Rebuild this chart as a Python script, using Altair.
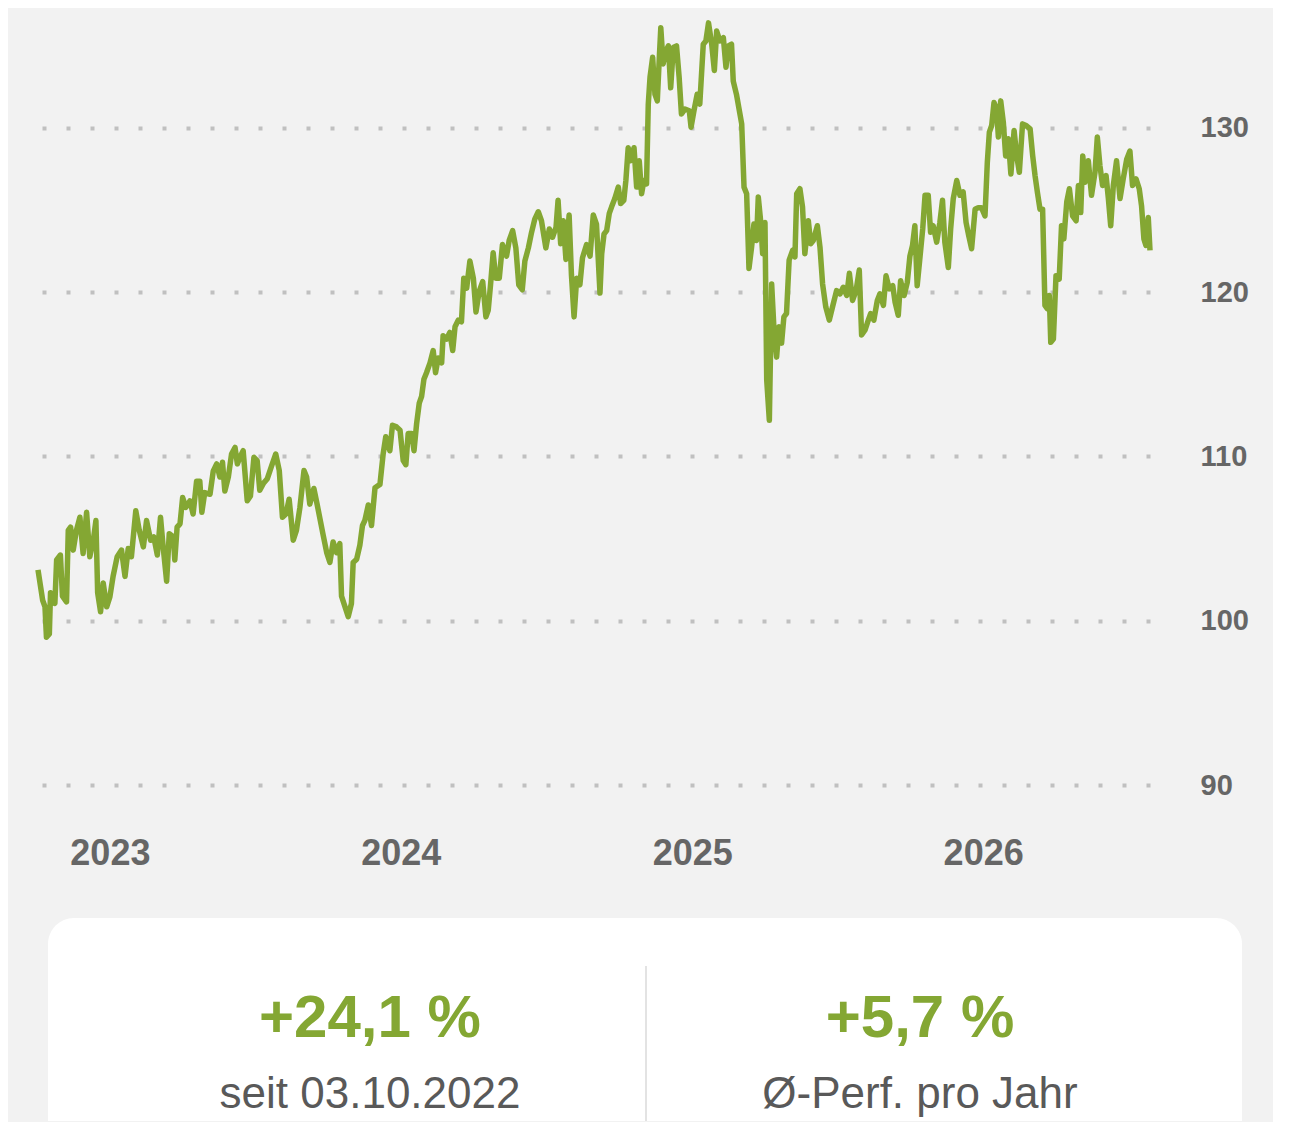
import altair as alt
import pandas as pd

# ---- price series (time in decimal years, value in index points)
t_a = [2022.753, 2022.769, 2022.777, 2022.782, 2022.792, 2022.796, 2022.803, 2022.811, 2022.817, 2022.830,
       2022.837, 2022.851, 2022.857, 2022.865, 2022.874, 2022.885, 2022.897, 2022.908, 2022.920, 2022.931,
       2022.943, 2022.952, 2022.958, 2022.968, 2022.977, 2022.989, 2023.000, 2023.011, 2023.025, 2023.040,
       2023.052, 2023.063, 2023.074, 2023.089, 2023.101, 2023.115, 2023.126, 2023.140, 2023.151, 2023.163,
       2023.174, 2023.183, 2023.195, 2023.204, 2023.218, 2023.223, 2023.231, 2023.241, 2023.250, 2023.261,
       2023.275, 2023.286, 2023.298, 2023.309, 2023.316, 2023.326, 2023.344, 2023.355, 2023.367, 2023.378,
       2023.387, 2023.395, 2023.407, 2023.418, 2023.430, 2023.438, 2023.447, 2023.458, 2023.472, 2023.483,
       2023.495, 2023.506, 2023.515, 2023.527, 2023.541, 2023.556, 2023.570, 2023.582, 2023.593, 2023.605,
       2023.616, 2023.630, 2023.641, 2023.653, 2023.667, 2023.676, 2023.687, 2023.701, 2023.712]
v_a = [103.1, 101.25, 100.85, 99.0, 99.2, 101.7, 101.5, 101.05, 103.7, 104.0,
       101.5, 101.15, 105.5, 105.7, 104.3, 105.5, 106.3, 104.1, 106.6, 103.9,
       104.9, 106.1, 101.7, 100.55, 102.3, 100.85, 101.45, 102.7, 103.9, 104.3,
       102.7, 104.4, 103.9, 106.7, 105.5, 104.5, 106.1, 104.9, 105.1, 104.0,
       106.3, 104.5, 102.4, 105.3, 105.1, 103.7, 105.7, 105.9, 107.5, 106.9,
       107.3, 106.5, 108.5, 108.5, 106.6, 107.8, 107.7, 109.1, 109.55, 108.75,
       109.65, 107.9, 108.75, 110.15, 110.55, 109.55, 109.95, 110.35, 107.3, 107.6,
       109.95, 109.75, 107.95, 108.35, 108.65, 109.45, 110.15, 109.15, 106.3, 106.5,
       107.4, 104.9, 105.5, 106.9, 109.15, 108.75, 107.1, 108.05, 107.1]

t_b = [2023.733, 2023.745, 2023.756, 2023.767, 2023.779, 2023.790, 2023.796, 2023.808, 2023.819, 2023.830,
       2023.836, 2023.848, 2023.859, 2023.868, 2023.876, 2023.888, 2023.899, 2023.911, 2023.928, 2023.939,
       2023.948, 2023.962, 2023.971, 2023.985, 2023.997, 2024.008, 2024.017, 2024.025, 2024.037, 2024.045,
       2024.054, 2024.063, 2024.071, 2024.079, 2024.088, 2024.100, 2024.111, 2024.119, 2024.128, 2024.140,
       2024.145, 2024.157, 2024.168, 2024.178, 2024.186, 2024.197, 2024.208, 2024.216, 2024.226, 2024.237,
       2024.249, 2024.258, 2024.269, 2024.281, 2024.292, 2024.300, 2024.308, 2024.317, 2024.326, 2024.338,
       2024.349, 2024.363, 2024.372, 2024.384, 2024.395, 2024.405, 2024.417, 2024.426, 2024.438, 2024.449,
       2024.460, 2024.472, 2024.483, 2024.498, 2024.510, 2024.521, 2024.533, 2024.540, 2024.549, 2024.558,
       2024.567, 2024.578, 2024.586, 2024.595, 2024.604, 2024.615, 2024.624, 2024.638, 2024.650, 2024.661,
       2024.672, 2024.684]
v_b = [105.2, 104.15, 103.55, 104.8, 104.15, 104.7, 101.5, 100.85, 100.25, 101.05,
       103.55, 103.75, 104.6, 105.8, 106.1, 107.05, 105.8, 108.1, 108.3, 110.15,
       111.2, 110.35, 111.9, 111.8, 111.6, 109.75, 109.5, 111.4, 111.4, 110.35,
       112.0, 113.25, 113.65, 114.7, 115.1, 115.7, 116.45, 115.1, 116.0, 115.7,
       117.35, 117.15, 117.55, 116.45, 117.9, 118.3, 118.2, 120.85, 120.25, 121.9,
       120.85, 118.8, 120.05, 120.65, 118.5, 118.9, 120.45, 122.4, 120.85, 120.85,
       122.9, 122.2, 123.15, 123.75, 122.7, 120.45, 120.15, 121.9, 122.7, 123.65,
       124.45, 124.9, 124.35, 122.7, 123.85, 123.35, 123.95, 125.6, 122.95, 124.35,
       122.0, 124.7, 121.05, 118.5, 120.85, 120.45, 122.1, 122.9, 122.2, 124.7,
       124.15, 119.95]

t_c = [2024.690, 2024.698, 2024.707, 2024.716, 2024.724, 2024.735, 2024.747, 2024.755, 2024.766, 2024.773,
       2024.781, 2024.789, 2024.801, 2024.810, 2024.819, 2024.827, 2024.835, 2024.844, 2024.850, 2024.856,
       2024.865, 2024.873, 2024.881, 2024.888, 2024.893, 2024.901, 2024.911, 2024.919, 2024.927, 2024.936,
       2024.947, 2024.956, 2024.964, 2024.976, 2024.991, 2024.997, 2025.007, 2025.018, 2025.027, 2025.039,
       2025.048, 2025.057, 2025.068, 2025.077, 2025.085, 2025.096, 2025.108, 2025.117, 2025.125, 2025.136,
       2025.142, 2025.153, 2025.165, 2025.171, 2025.179, 2025.188, 2025.196, 2025.205, 2025.213, 2025.222,
       2025.228, 2025.236, 2025.243, 2025.251, 2025.257, 2025.266, 2025.274, 2025.282, 2025.291, 2025.299,
       2025.308, 2025.316, 2025.325, 2025.334, 2025.346, 2025.354, 2025.360, 2025.371, 2025.380, 2025.388,
       2025.400, 2025.408, 2025.417, 2025.431, 2025.440, 2025.449, 2025.460, 2025.472, 2025.483, 2025.497,
       2025.509, 2025.520, 2025.532, 2025.541, 2025.552, 2025.564, 2025.575, 2025.583, 2025.595, 2025.606,
       2025.614, 2025.625, 2025.637, 2025.646]
v_c = [122.35, 123.55, 123.75, 124.8, 125.2, 125.7, 126.4, 125.4, 125.6, 126.8,
       128.8, 128.0, 128.8, 126.4, 128.0, 126.0, 126.8, 126.6, 131.45, 133.1,
       134.3, 132.05, 131.65, 134.3, 136.1, 133.9, 134.7, 135.0, 132.45, 134.9,
       135.0, 133.1, 130.85, 131.15, 131.05, 130.05, 131.05, 132.05, 131.45, 135.1,
       135.3, 136.4, 135.1, 133.5, 135.9, 135.3, 135.5, 133.7, 135.0, 135.1,
       132.85, 132.05, 130.85, 130.25, 126.4, 126.0, 121.45, 122.75, 124.15, 123.15,
       125.8, 124.35, 122.35, 124.25, 114.65, 112.2, 120.5, 117.7, 116.05, 117.9,
       116.9, 118.5, 118.7, 121.95, 122.55, 122.15, 126.0, 126.3, 125.2, 122.35,
       124.35, 122.95, 123.15, 124.05, 122.75, 120.5, 119.1, 118.3, 119.1, 120.1,
       119.9, 120.3, 119.8, 121.15, 119.5, 120.1, 121.35, 117.4, 117.7, 118.3,
       118.7, 118.3, 119.5, 119.9]

t_d = [2025.658, 2025.667, 2025.678, 2025.690, 2025.698, 2025.709, 2025.717, 2025.729, 2025.740, 2025.749,
       2025.758, 2025.766, 2025.774, 2025.784, 2025.793, 2025.801, 2025.812, 2025.820, 2025.829, 2025.841,
       2025.852, 2025.861, 2025.869, 2025.881, 2025.889, 2025.898, 2025.910, 2025.921, 2025.932, 2025.942,
       2025.951, 2025.961, 2025.973, 2025.984, 2025.995, 2026.007, 2026.015, 2026.022, 2026.030, 2026.038,
       2026.047, 2026.053, 2026.061, 2026.070, 2026.078, 2026.087, 2026.096, 2026.107, 2026.116, 2026.125,
       2026.136, 2026.148, 2026.162, 2026.171, 2026.179, 2026.187, 2026.196, 2026.205, 2026.213, 2026.221,
       2026.228, 2026.233, 2026.242, 2026.251, 2026.262, 2026.270, 2026.278, 2026.288, 2026.297, 2026.308,
       2026.320, 2026.328, 2026.336, 2026.343, 2026.351, 2026.362, 2026.373, 2026.385, 2026.393, 2026.402,
       2026.411, 2026.423, 2026.431, 2026.439, 2026.448, 2026.459, 2026.471, 2026.482, 2026.494, 2026.505,
       2026.514, 2026.526, 2026.537, 2026.545, 2026.553, 2026.560, 2026.568, 2026.574]
v_d = [119.2, 121.0, 120.2, 120.4, 119.4, 118.6, 120.7, 119.8, 120.6, 122.2,
       122.85, 124.05, 120.4, 122.2, 123.85, 125.9, 125.9, 123.65, 124.05, 123.05,
       124.25, 125.6, 123.05, 121.5, 123.85, 125.7, 126.8, 125.9, 126.1, 124.25,
       123.45, 122.65, 125.05, 125.15, 125.15, 124.65, 127.9, 129.75, 130.15, 131.55,
       131.15, 129.45, 131.65, 130.35, 128.3, 129.35, 127.2, 129.85, 128.3, 127.3,
       130.25, 130.15, 129.95, 128.3, 127.1, 126.1, 125.05, 125.05, 119.2, 119.0,
       119.8, 116.95, 117.15, 121.0, 120.8, 124.05, 123.25, 125.5, 126.3, 124.65,
       124.35, 126.5, 124.85, 128.3, 126.7, 128.0, 125.9, 127.3, 129.45, 127.7,
       126.5, 127.1, 125.7, 124.05, 126.5, 128.0, 125.7, 126.9, 128.1, 128.6,
       126.5, 126.9, 126.3, 125.25, 123.25, 122.85, 124.55, 122.55]

year_ticks = [2023, 2024, 2025, 2026]
value_ticks = [90, 100, 110, 120, 130]
stat_values = ["+24,1 %", "+5,7 %"]
stat_labels = ["seit 03.10.2022", "Ø-Perf. pro Jahr"]

years = t_a + t_b + t_c + t_d
values = v_a + v_b + v_c + v_d
jan1 = pd.Timestamp("2023-01-01")
dates = [jan1 + pd.Timedelta(days=(t - 2023) * 365.25) for t in years]
df = pd.DataFrame({"date": dates, "value": values})

FONT = "Liberation Sans"
GREEN = "#84a733"
AXIS_GRAY = "#666666"
TEXT_GRAY = "#595959"

line = alt.Chart(df).mark_line(color=GREEN, strokeWidth=5.5, strokeJoin="round", strokeCap="butt").encode(
    x=alt.X(
        "date:T",
        axis=alt.Axis(
            values=[alt.DateTime(year=y, month=1, date=1) for y in year_ticks],
            format="%Y", title=None, grid=False, domain=False, ticks=False, tickSize=0,
            labelFont=FONT, labelFontSize=36, labelFontWeight="bold", labelColor=AXIS_GRAY,
            labelPadding=68, labelBaseline="middle", labelFlush=False,
        ),
    ),
    y=alt.Y(
        "value:Q",
        scale=alt.Scale(domain=[90, 137], nice=False, zero=False),
        axis=alt.Axis(
            orient="right", values=value_ticks, title=None, domain=False, ticks=False, tickSize=0,
            grid=True, gridColor="#c0c0c0", gridDash=[4, 20], gridWidth=4,
            labelFont=FONT, labelFontSize=29, labelFontWeight="bold", labelColor=AXIS_GRAY,
            labelPadding=50, labelAlign="left", labelBaseline="middle",
        ),
    ),
)

one = pd.DataFrame({"k": [0]})
card = alt.Chart(one).mark_rect(
    color="white", cornerRadiusTopLeft=26, cornerRadiusTopRight=26
).encode(x=alt.value(10), x2=alt.value(1204), y=alt.value(905), y2=alt.value(1108))

divider = alt.Chart(one).mark_rule(color="#e3e3e3", strokeWidth=2).encode(
    x=alt.value(608), y=alt.value(953), y2=alt.value(1108)
)


def stat_text(txt, x, y, size, color, weight):
    return alt.Chart(pd.DataFrame({"label": [txt]})).mark_text(
        font=FONT, fontSize=size, fontWeight=weight, color=color,
        align="center", baseline="alphabetic",
    ).encode(x=alt.value(x), y=alt.value(y), text="label:N")


texts = [
    stat_text(stat_values[0], 332, 1024, 60, GREEN, "bold"),
    stat_text(stat_values[1], 882, 1024, 60, GREEN, "bold"),
    stat_text(stat_labels[0], 332, 1095, 44, TEXT_GRAY, "normal"),
    stat_text(stat_labels[1], 882, 1095, 44, TEXT_GRAY, "normal"),
]

chart = alt.layer(card, divider, *texts, line).properties(
    width=1112,
    height=772,
    padding={"left": 27, "top": 5, "right": 24, "bottom": 0},
).configure(background="#f2f2f2").configure_view(stroke=None)

chart.save("out.html", embed_options={"renderer": "svg", "actions": False})
